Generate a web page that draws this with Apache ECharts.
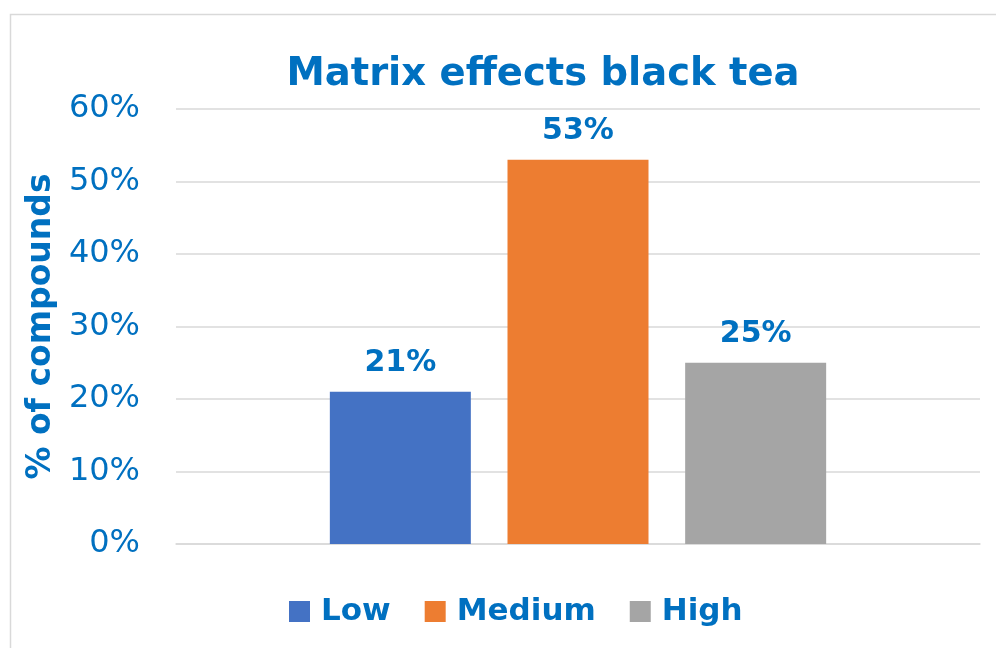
<!DOCTYPE html>
<html>
<head>
<meta charset="utf-8">
<script src="https://cdn.jsdelivr.net/npm/echarts@6/dist/echarts.min.js"></script>
<style>
  html, body { margin: 0; padding: 0; background: #ffffff; }
  #chart { width: 996px; height: 648px; }
</style>
</head>
<body>
<div id="chart"></div>
<script>
// Share of compounds per matrix-effect level, black tea
const categories = [''];
const seriesNames = ['Low', 'Medium', 'High'];
const lowValues = [21];
const mediumValues = [53];
const highValues = [25];
const seriesColors = ['#4472C4', '#ED7D31', '#A5A5A5'];
const yTicks = { min: 0, max: 60, interval: 10 };

const blue = '#0070C0';
const fontFamily = '"DejaVu Sans", sans-serif';

const chart = echarts.init(document.getElementById('chart'), null, { renderer: 'canvas' });

const valueSets = [lowValues, mediumValues, highValues];

const series = seriesNames.map((name, i) => ({
  name,
  type: 'bar',
  data: valueSets[i],
  barWidth: 141,
  barGap: '26%',
  itemStyle: { color: seriesColors[i] },
  label: {
    show: true,
    position: 'top',
    distance: 14,
    formatter: '{c}%',
    color: blue,
    fontFamily,
    fontWeight: 'bold',
    fontSize: 30
  }
}));

chart.setOption({
  animation: false,
  backgroundColor: '#ffffff',
  graphic: [{
    type: 'rect',
    shape: { x: 10.5, y: 14.5, width: 1100, height: 800 },
    style: { fill: 'none', stroke: '#d9d9d9', lineWidth: 1.5 },
    z: -1
  }],
  title: {
    text: 'Matrix effects black tea',
    left: 538,
    textAlign: 'center',
    top: 50,
    textStyle: { color: blue, fontFamily, fontWeight: 'bold', fontSize: 38.5 }
  },
  legend: {
    top: 591,
    left: 284,
    itemWidth: 21,
    itemHeight: 21,
    itemGap: 34,
    icon: 'rect',
    textStyle: { color: blue, fontFamily, fontWeight: 'bold', fontSize: 31, padding: [0, 0, 0, 6] },
    data: seriesNames
  },
  grid: { left: 176, right: 16, top: 109, bottom: 104, containLabel: false },
  xAxis: {
    type: 'category',
    data: categories,
    axisLine: { show: true, lineStyle: { color: '#d9d9d9', width: 1.5 } },
    axisTick: { show: false },
    axisLabel: { show: false }
  },
  yAxis: {
    type: 'value',
    min: yTicks.min,
    max: yTicks.max,
    interval: yTicks.interval,
    name: '% of compounds',
    nameLocation: 'middle',
    nameRotate: 90,
    nameGap: 106,
    nameTextStyle: { color: blue, fontFamily, fontWeight: 'bold', fontSize: 33 },
    axisLine: { show: false },
    axisTick: { show: false },
    axisLabel: { formatter: '{value}%', color: blue, fontFamily, fontSize: 32, margin: 36 },
    splitLine: { lineStyle: { color: '#d9d9d9', width: 1.5 } }
  },
  series
});
</script>
</body>
</html>
